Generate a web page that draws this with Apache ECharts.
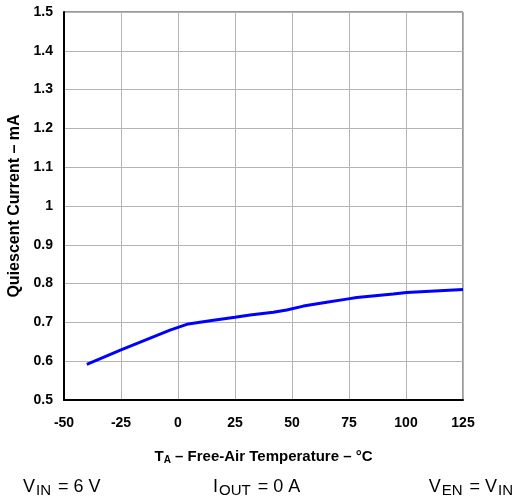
<!DOCTYPE html>
<html>
<head>
<meta charset="utf-8">
<script src="https://cdn.jsdelivr.net/npm/echarts@6/dist/echarts.min.js"></script>
<style>html,body{margin:0;padding:0;background:#fff;}#c{width:514px;height:503px;}</style>
</head>
<body>
<div id="c"></div>
<script>
var temps = [-40, -25, -3.5, 4.5, 14.8, 25, 31.6, 41.8, 47.7, 55, 65.2, 74, 78.4, 94.4, 100.3, 125];
var current = [0.592, 0.629, 0.680, 0.696, 0.705, 0.713, 0.719, 0.726, 0.732, 0.742, 0.752, 0.760, 0.764, 0.773, 0.777, 0.785];
var xTicks = [-50, -25, 0, 25, 50, 75, 100, 125];
var yTicks = [0.5, 0.6, 0.7, 0.8, 0.9, 1, 1.1, 1.2, 1.3, 1.4, 1.5];

var font = 'Liberation Sans, Arial, sans-serif';
var chart = echarts.init(document.getElementById('c'), null, {renderer: 'canvas'});
var bottomRich = {
  m: {fontSize: 18, fontFamily: font, color: '#000'},
  s: {fontSize: 15, fontFamily: font, color: '#000', padding: [8, 2, 0, 1]}
};
chart.setOption({
  animation: false,
  backgroundColor: '#fff',
  grid: {left: 64, right: 51, top: 12, bottom: 103, containLabel: false, outerBoundsMode: 'none',
    show: true, borderColor: '#333', borderWidth: 1},
  xAxis: {
    type: 'value', min: -50, max: 125, interval: 25,
    axisLine: {show: true, onZero: false, lineStyle: {color: '#000', width: 2}},
    axisTick: {show: false},
    splitLine: {show: true, lineStyle: {color: '#b4b4b4', width: 1}},
    axisLabel: {margin: 16, fontSize: 14, fontWeight: 'bold', color: '#000', fontFamily: font,
      formatter: function (v) { return xTicks.indexOf(v) >= 0 ? String(v) : ''; }},
    name: '{m|T}{s|A}{m| – Free-Air Temperature – °C}',
    nameLocation: 'middle', nameGap: 48,
    nameTextStyle: {rich: {
      m: {fontSize: 15, fontWeight: 'bold', color: '#000', fontFamily: font},
      s: {fontSize: 10, fontWeight: 'bold', color: '#000', fontFamily: font, padding: [7, 0, 0, 0]}
    }}
  },
  yAxis: {
    type: 'value', min: 0.5, max: 1.5, interval: 0.1,
    axisLine: {show: true, onZero: false, lineStyle: {color: '#000', width: 2}},
    axisTick: {show: false},
    splitLine: {show: true, lineStyle: {color: '#b4b4b4', width: 1}},
    axisLabel: {margin: 11, fontSize: 14, fontWeight: 'bold', color: '#000', fontFamily: font,
      formatter: function (v) { var r = Math.round(v * 10) / 10; return yTicks.indexOf(r) >= 0 ? String(r) : ''; }},
    name: 'Quiescent Current – mA', nameLocation: 'middle', nameGap: 39,
    nameTextStyle: {fontSize: 16, fontWeight: 'bold', color: '#000', fontFamily: font}
  },
  series: [{
    type: 'line', showSymbol: false, smooth: false,
    data: temps.map(function (t, i) { return [t, current[i]]; }),
    lineStyle: {color: '#0000ff', width: 3}
  }],
  graphic: [
    {type: 'text', left: 23, top: 478, style: {text: '{m|V}{s|IN}{m| = 6 V}', rich: bottomRich}},
    {type: 'text', left: 213, top: 478, style: {text: '{m|I}{s|OUT}{m| = 0 A}', rich: bottomRich}},
    {type: 'text', right: 1, top: 478, style: {text: '{m|V}{s|EN}{m| = V}{s|IN}', rich: bottomRich}}
  ]
});
</script>
</body>
</html>
